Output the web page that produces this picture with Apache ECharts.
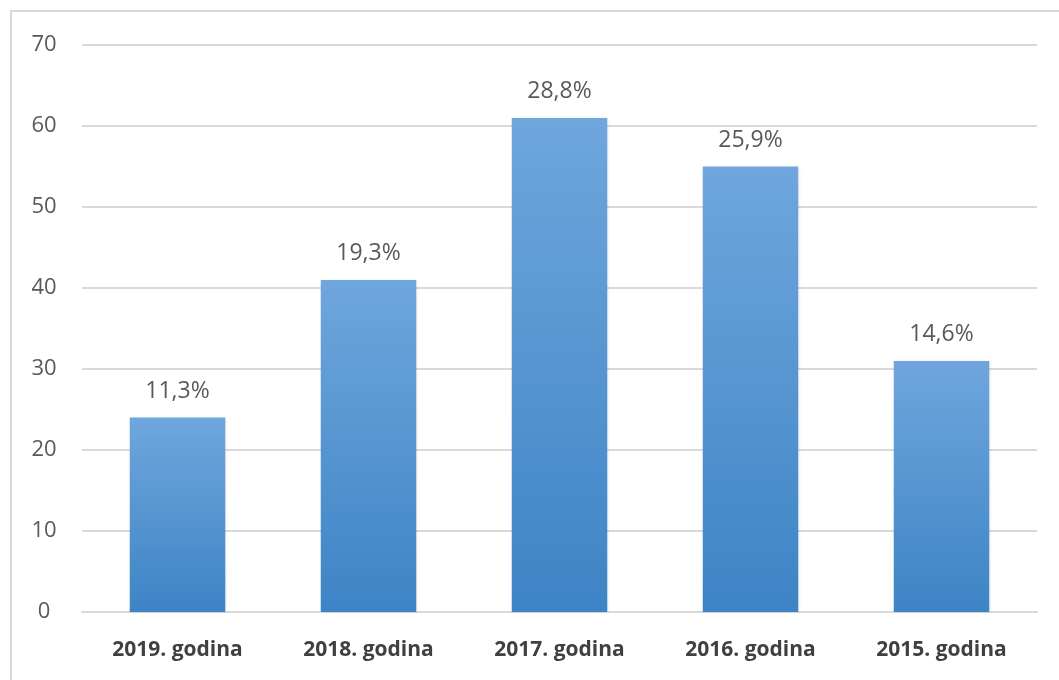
<!DOCTYPE html>
<html>
<head>
<meta charset="utf-8">
<script src="https://cdn.jsdelivr.net/npm/echarts@6/dist/echarts.min.js"></script>
<style>
html,body{margin:0;padding:0;background:#fff;overflow:hidden;}
#frame{position:absolute;left:10px;top:10px;width:1060px;height:700px;border-left:2px solid #d9d9d9;border-top:2px solid #d9d9d9;}
#chart{position:absolute;left:0;top:0;width:1059px;height:680px;}
</style>
</head>
<body>
<div id="frame"></div>
<div id="chart"></div>
<script>
const categories = ['2019. godina', '2018. godina', '2017. godina', '2016. godina', '2015. godina'];
const values = [24, 41, 61, 55, 31];
const percentLabels = ['11,3%', '19,3%', '28,8%', '25,9%', '14,6%'];
const yMin = 0, yMax = 70, yInterval = 10;

const chart = echarts.init(document.getElementById('chart'));
chart.setOption({
  animation: false,
  grid: { left: 82, right: 22, top: 45, bottom: 68, containLabel: false },
  xAxis: {
    type: 'category',
    data: categories,
    axisLine: { show: true, lineStyle: { color: '#d9d9d9', width: 2 } },
    axisTick: { show: false },
    axisLabel: { color: '#404040', fontSize: 21, fontWeight: 'bold', fontFamily: 'Open Sans', margin: 28 }
  },
  yAxis: {
    type: 'value',
    min: yMin, max: yMax, interval: yInterval,
    axisLine: { show: false },
    axisTick: { show: false },
    splitLine: { lineStyle: { color: '#d9d9d9', width: 2 } },
    axisLabel: { color: '#595959', fontSize: 22, fontFamily: 'Open Sans', margin: 38, align: 'center' }
  },
  series: [{
    type: 'bar',
    data: values,
    barWidth: '50%',
    itemStyle: {
      color: new echarts.graphic.LinearGradient(0, 0, 0, 1, [
        { offset: 0, color: '#6fa6dd' },
        { offset: 1, color: '#3d84c6' }
      ]),
      shadowColor: 'rgba(0,0,0,0.12)', shadowBlur: 3, shadowOffsetX: 1
    },
    label: {
      show: true, position: 'top', distance: 15,
      color: '#595959', fontSize: 23, fontFamily: 'Open Sans',
      formatter: p => percentLabels[p.dataIndex]
    }
  }]
});
</script>
</body>
</html>
